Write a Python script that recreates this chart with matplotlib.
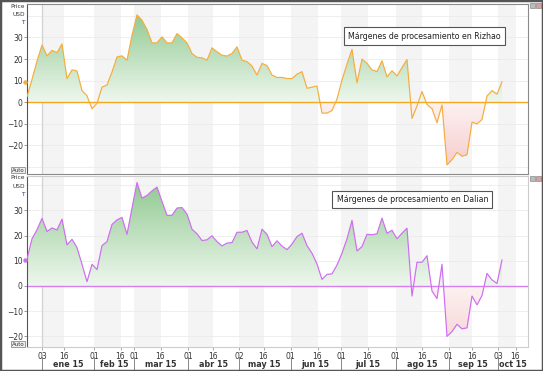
import numpy as np
import matplotlib
matplotlib.use('Agg')
import matplotlib.pyplot as plt
from matplotlib.colors import LinearSegmentedColormap
from matplotlib.path import Path
from matplotlib.patches import Rectangle
from matplotlib.lines import Line2D
from matplotlib.transforms import blended_transform_factory

# margins, USD/t, sampled about every 2 trading days (dec 2014 - oct 2015)
rizhao = [2.6, 10.6, 19, 26.5, 21.5, 24, 23, 27, 11, 15,
          14.5, 5.4, 3, -3, -0.5, 7, 8, 14, 21, 21.5,
          19.5, 31, 40.5, 38, 33.7, 27.5, 27.5, 30.3, 27.5, 27.5,
          31.8, 29.8, 27.5, 22.6, 20.8, 20.6, 19.5, 25.2, 23.4, 21.8,
          21.4, 22.6, 25.7, 19.5, 18.8, 16.8, 12.6, 18, 17, 12.6,
          11.5, 11.5, 11, 11, 13, 14.2, 6.5, 7, 7.5, -5,
          -5, -3.8, 1.5, 10.3, 17.7, 24.5, 9, 20, 18, 15,
          14.2, 19.2, 11.8, 14.6, 12.2, 16, 19.8, -7.5, -1.7, 5,
          -1, -3, -9.5, -1.2, -29, -26.6, -23.2, -25, -24.3, -9.2,
          -10, -8, 2.9, 5.4, 3.8, 9.5]

dalian = [10.7, 18.7, 22.3, 26.8, 21.6, 23, 22.2, 26.5, 16.3, 18.5,
          15.2, 8.6, 1.7, 8.6, 6.5, 16, 17.6, 24.4, 26.2, 27.2,
          20.5, 30.9, 41, 34.8, 35.9, 37.7, 39.2, 33.5, 28, 28,
          30.9, 31.1, 28.5, 22.5, 20.7, 18, 18.3, 19.9, 17.6, 15.9,
          17, 17.2, 21.3, 21.3, 22, 17.4, 14.7, 22.5, 20.5, 15.6,
          17.9, 15.8, 14.4, 16.6, 19.6, 20.9, 16, 13, 8.7, 2.6,
          4.6, 4.8, 8.3, 13, 18.7, 26, 13.9, 15.6, 20.5, 20.3,
          20.7, 26.9, 20.9, 22.1, 18.7, 20.9, 22.9, -4, 9.4, 9.4,
          12, -2, -5, 8.6, -20, -18.1, -15.2, -17, -16.6, -4,
          -7.5, -3.8, 5, 2.4, 1, 10.3]

day_labels = ['03', '16', '01', '16', '01', '16', '01', '16', '02', '16',
              '01', '16', '01', '16', '01', '16', '01', '16', '03', '16']
month_labels = ['ene 15', 'feb 15', 'mar 15', 'abr 15', 'may 15',
                'jun 15', 'jul 15', 'ago 15', 'sep 15', 'oct 15']

# where the date ticks fall, in sample units
day_ticks = [3.0, 7.4, 13.4, 18.7, 21.4, 26.7, 32.2, 37.2, 42.4, 47.3,
             52.7, 58.1, 62.8, 68.1, 73.7, 79.0, 84.3, 89.0, 94.2, 97.7]
XMAX = 100.2

W, H = 543, 371
fig = plt.figure(figsize=(W / 100, H / 100), dpi=100)
fig.patch.set_facecolor('white')

ax1 = fig.add_axes([27 / W, 1 - 174 / H, 501 / W, 170 / H])
ax2 = fig.add_axes([27 / W, 1 - 347 / H, 501 / W, 171 / H])


def gradient(ax, x, y, positive, lo, hi, c_near, c_far):
    if positive:
        coll = ax.fill_between(x, y, 0, where=y >= 0, interpolate=True,
                               facecolor='none', edgecolor='none')
        ext = [x[0], x[-1], 0, hi]
        cmap = LinearSegmentedColormap.from_list('g', [c_near, c_far])
    else:
        coll = ax.fill_between(x, y, 0, where=y <= 0, interpolate=True,
                               facecolor='none', edgecolor='none')
        ext = [x[0], x[-1], lo, 0]
        cmap = LinearSegmentedColormap.from_list('r', [c_far, c_near])
    arr = np.linspace(0, 1, 256).reshape(-1, 1)
    im = ax.imshow(arr, extent=ext, origin='lower', aspect='auto',
                   cmap=cmap, zorder=1, interpolation='bilinear')
    paths = coll.get_paths()
    if paths:
        im.set_clip_path(Path.make_compound_path(*paths), ax.transData)
    else:
        im.remove()


def panel(ax, vals, line_c, zero_c, ylim, title, title_xy):
    y = np.array(vals, dtype=float)
    x = np.arange(len(y))
    for k in range(0, len(day_ticks), 2):
        ax.axvspan(day_ticks[k], day_ticks[k + 1], color='#f4f4f4', lw=0, zorder=0)
    for v in range(-30, 50, 10):
        ax.axhline(v, color='#ebebeb', lw=0.6, zorder=0.5)
    ax.axvline(day_ticks[0], color='#d2d2d2', lw=0.9, zorder=0.6)

    gradient(ax, x, y, True, ylim[0], 45, '#eef7ee', '#88c588')
    gradient(ax, x, y, False, -30, 0, '#fdf2f2', '#f6cccc')

    ax.plot(x, y, color=line_c, lw=0.85, zorder=3)
    ax.axhline(0, color=zero_c, lw=1.0, zorder=2.5)
    ax.plot(-0.4, y[-1], marker='o', ms=2.2, color=line_c, clip_on=False, zorder=4)

    ax.set_xlim(0, XMAX)
    ax.set_ylim(*ylim)
    ax.set_yticks([-20, -10, 0, 10, 20, 30])
    ax.tick_params(axis='y', labelsize=5.5, colors='#333333', length=2,
                   width=0.6, pad=1)
    ax.tick_params(axis='y', color='#888888')
    ax.text(title_xy[0], title_xy[1], title, transform=ax.transAxes,
            ha='center', va='center', fontsize=5.7, color='#222222', zorder=6,
            bbox=dict(boxstyle='square,pad=0.55', fc='white', ec='#555555', lw=0.8))


panel(ax1, rizhao, '#f6ad3c', '#f5a623', (-33.2, 45.5),
      'Márgenes de procesamiento en Rizhao', (0.794, 0.81))
panel(ax2, dalian, '#d06cf2', '#d47ef0', (-24.2, 43.6),
      'Márgenes de procesamiento en Dalian', (0.769, 0.862))

for sp in ax1.spines.values():
    sp.set_color('#8a8a8a')
    sp.set_linewidth(0.8)
ax1.spines['left'].set_color('#555555')
for sp in ax2.spines.values():
    sp.set_color('#cccccc')
    sp.set_linewidth(0.8)
ax2.spines['left'].set_color('#555555')

ax1.set_xticks([])
ax2.set_xticks(day_ticks)
ax2.set_xticklabels(day_labels)
ax2.tick_params(axis='x', labelsize=5.5, colors='#333333', length=2,
                width=0.6, pad=1.5)
ax2.tick_params(axis='x', color='#999999')

# month labels and separators below the day ticks
tr = blended_transform_factory(ax2.transData, fig.transFigure)
starts = day_ticks[::2] + [XMAX]
for i, lab in enumerate(month_labels):
    mid = (starts[i] + starts[i + 1]) / 2
    ax2.text(mid, 1 - 364.5 / H, lab, transform=tr, ha='center', va='center',
             fontsize=5.8, fontweight='bold', color='#333333')
    ln = Line2D([starts[i], starts[i]], [1 - 357 / H, 1 - 370 / H], transform=tr,
                color='#888888', lw=0.7, clip_on=False)
    ax2.add_line(ln)

# axis captions and buttons
for top in (7, 178):
    for k, s in enumerate(['Price', 'USD', 'T']):
        fig.text(25 / W, 1 - (top + 8 * k) / H, s, ha='right', va='center',
                 fontsize=4.2, color='#333333' if s != 'T' else '#223366')
for yb in (170, 344):
    fig.text(18 / W, 1 - yb / H, 'Auto', ha='center', va='center', fontsize=4.0,
             color='#333333',
             bbox=dict(boxstyle='square,pad=0.12', fc='#eeeeee', ec='#777777', lw=0.5))
# small window icons at the right
for yi in (3, 176):
    fig.patches.append(Rectangle((530 / W, 1 - (yi + 5) / H), 5 / W, 5 / H,
                                 transform=fig.transFigure, fc='#bbbbbb', ec='#777777', lw=0.4))
    fig.patches.append(Rectangle((536 / W, 1 - (yi + 5) / H), 5 / W, 5 / H,
                                 transform=fig.transFigure, fc='#d9a0a0', ec='#777777', lw=0.4))

fig.patches.append(Rectangle((0, 0), 1, 1, transform=fig.transFigure,
                             fill=False, ec='#555555', lw=2.5))

fig.savefig('out.png', dpi=100)
